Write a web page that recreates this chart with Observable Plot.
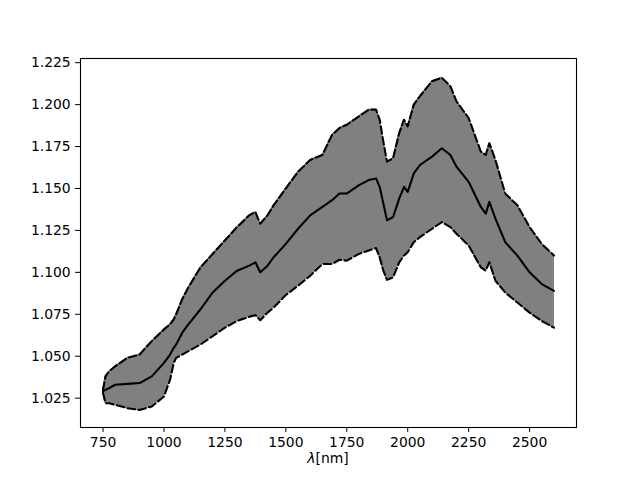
<!DOCTYPE html>
<html>
<head>
<meta charset="utf-8">
<script src="https://cdn.jsdelivr.net/npm/d3@7"></script>
<script src="https://cdn.jsdelivr.net/npm/@observablehq/plot@0.6"></script>
<style>
  html, body { margin: 0; padding: 0; background: #fff; }
  #chart { width: 640px; height: 480px; }
</style>
</head>
<body>
<div id="chart"></div>
<script>
// Wavelength grid (nm)
const wavelength = [750, 760, 775, 800, 850, 900, 950, 1000, 1025, 1040, 1050, 1075, 1100, 1150, 1200, 1250, 1300, 1350, 1375, 1395, 1425, 1450, 1500, 1550, 1600, 1650, 1690, 1720, 1750, 1800, 1840, 1870, 1885, 1900, 1915, 1940, 1965, 1985, 2000, 2025, 2050, 2100, 2140, 2175, 2200, 2250, 2300, 2320, 2335, 2360, 2400, 2450, 2500, 2550, 2600];

// Upper bound (dashed)
const upper = [1.030, 1.038, 1.041, 1.044, 1.049, 1.051, 1.059, 1.066, 1.069, 1.072, 1.075, 1.084, 1.091, 1.103, 1.111, 1.119, 1.127, 1.134, 1.136, 1.129, 1.134, 1.140, 1.150, 1.160, 1.167, 1.170, 1.182, 1.186, 1.188, 1.193, 1.197, 1.197, 1.191, 1.178, 1.166, 1.168, 1.183, 1.191, 1.187, 1.200, 1.205, 1.214, 1.216, 1.211, 1.202, 1.192, 1.172, 1.170, 1.177, 1.167, 1.147, 1.140, 1.127, 1.117, 1.110];

// Mean (solid)
const mean = [1.029, 1.030, 1.031, 1.033, 1.0335, 1.034, 1.038, 1.046, 1.051, 1.055, 1.057, 1.064, 1.069, 1.078, 1.088, 1.095, 1.101, 1.104, 1.106, 1.100, 1.104, 1.109, 1.117, 1.126, 1.134, 1.139, 1.143, 1.147, 1.147, 1.152, 1.155, 1.156, 1.151, 1.141, 1.131, 1.133, 1.144, 1.151, 1.148, 1.159, 1.164, 1.169, 1.174, 1.170, 1.163, 1.154, 1.139, 1.135, 1.142, 1.132, 1.118, 1.110, 1.100, 1.093, 1.089];

// Lower bound (dashed)
const lower = [1.028, 1.022, 1.022, 1.021, 1.019, 1.018, 1.020, 1.026, 1.036, 1.046, 1.049, 1.051, 1.053, 1.057, 1.062, 1.067, 1.071, 1.0735, 1.0745, 1.0715, 1.076, 1.079, 1.0865, 1.092, 1.098, 1.105, 1.105, 1.1075, 1.107, 1.111, 1.113, 1.1145, 1.109, 1.101, 1.0955, 1.097, 1.106, 1.110, 1.112, 1.118, 1.121, 1.126, 1.130, 1.127, 1.123, 1.116, 1.103, 1.101, 1.106, 1.095, 1.088, 1.082, 1.076, 1.071, 1.067];

const xTicks = [750, 1000, 1250, 1500, 1750, 2000, 2250, 2500];
const yTicks = [1.025, 1.050, 1.075, 1.100, 1.125, 1.150, 1.175, 1.200, 1.225];

const data = wavelength.map((w, i) => ({w, lo: lower[i], hi: upper[i], m: mean[i]}));

const plot = Plot.plot({
  width: 640,
  height: 480,
  marginLeft: 80,
  marginRight: 64,
  marginTop: 58,
  marginBottom: 53,
  style: {fontFamily: "DejaVu Sans", fontSize: "13.9px", color: "black", background: "white"},
  x: {domain: [657.5, 2692.5], ticks: xTicks, tickFormat: d3.format("d"), label: null, tickSize: 4.9, tickPadding: 4.9},
  y: {domain: [1.0075, 1.2275], ticks: yTicks, tickFormat: d3.format(".3f"), label: null, tickSize: 4.9, tickPadding: 4.9},
  marks: [
    Plot.areaY(data, {x: "w", y1: "lo", y2: "hi", fill: "#808080", stroke: "#808080", strokeWidth: 1}),
    Plot.lineY(data, {x: "w", y: "hi", stroke: "black", strokeWidth: 2.08, strokeDasharray: "7.7,3.3"}),
    Plot.lineY(data, {x: "w", y: "lo", stroke: "black", strokeWidth: 2.08, strokeDasharray: "7.7,3.3"}),
    Plot.lineY(data, {x: "w", y: "m", stroke: "black", strokeWidth: 2.08}),
    Plot.frame({stroke: "black", strokeWidth: 1.1})
  ]
});

const svg = d3.select(plot);
const label = svg.append("text")
  .attr("x", 328)
  .attr("y", 463)
  .attr("text-anchor", "middle")
  .attr("font-family", "DejaVu Sans")
  .attr("font-size", "13.9px")
  .attr("fill", "black");
label.append("tspan").attr("font-style", "italic").text("λ");
label.append("tspan").text("[nm]");

document.getElementById("chart").appendChild(plot);
</script>
</body>
</html>
